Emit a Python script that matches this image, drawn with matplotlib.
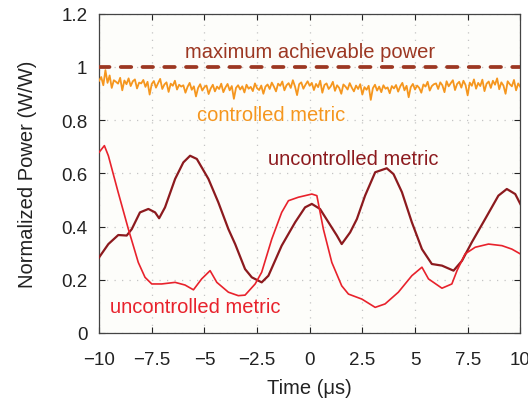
import numpy as np
import matplotlib
matplotlib.use("Agg")
import matplotlib.pyplot as plt

plt.rcParams['font.family'] = ['Liberation Sans', 'DejaVu Sans']

# Uncontrolled metric (bright red trace)
red_t = [-10.0, -9.75, -9.56, -9.1, -8.61, -8.14, -7.82, -7.5, -7.03, -6.39, -5.92,
         -5.52, -5.13, -4.73, -4.41, -3.86, -3.39, -3.07, -2.59, -2.28, -1.8, -1.33,
         -1.01, -0.54, 0.1, 0.34, 0.65, 1.05, 1.52, 1.84, 2.48, 3.11, 3.58, 4.21, 4.85,
         5.33, 5.64, 6.28, 6.75, 7.0, 7.38, 7.86, 8.49, 9.13, 9.6, 10.0]
red_p = [0.679, 0.704, 0.666, 0.53, 0.39, 0.265, 0.209, 0.184, 0.184, 0.19, 0.18,
         0.162, 0.203, 0.234, 0.19, 0.153, 0.14, 0.142, 0.184, 0.228, 0.353, 0.453,
         0.497, 0.51, 0.522, 0.516, 0.39, 0.265, 0.177, 0.146, 0.127, 0.096, 0.109, 0.153, 0.215,
         0.247, 0.203, 0.168, 0.184, 0.235, 0.297, 0.322, 0.334, 0.328, 0.315, 0.297]

# Uncontrolled metric (dark red trace)
dark_t = [-10.0, -9.56, -9.09, -8.69, -8.45, -8.06, -7.66, -7.34, -7.15, -6.87, -6.39,
          -6.0, -5.68, -5.36, -4.81, -4.34, -3.86, -3.54, -3.07, -2.75, -2.28, -1.96,
          -1.33, -0.69, -0.22, 0.1, 0.49, 0.89, 1.29, 1.52, 1.92, 2.24, 2.63, 3.11, 3.66,
          3.98, 4.38, 4.85, 5.33, 5.8, 6.28, 6.83, 7.23, 7.7, 8.33, 8.96, 9.36, 9.76, 10.0]
dark_p = [0.284, 0.334, 0.368, 0.366, 0.39, 0.453, 0.466, 0.453, 0.431, 0.472, 0.579,
          0.641, 0.666, 0.654, 0.579, 0.491, 0.39, 0.334, 0.24, 0.209, 0.19, 0.215,
          0.328, 0.416, 0.472, 0.485, 0.466, 0.416, 0.366, 0.334, 0.378, 0.428, 0.516, 0.604, 0.619,
          0.597, 0.529, 0.416, 0.315, 0.259, 0.253, 0.234, 0.271, 0.341, 0.428, 0.516, 0.541, 0.522, 0.485]

# Controlled metric samples (thousandths of W/W), uniformly spaced over -10..10 us
ctrl_milli = [
    948, 962, 931, 988, 940, 968, 921, 950, 944, 937, 959, 912, 949, 935, 957, 928, 946, 953, 919, 941,
    938, 951, 925, 944, 896, 936, 947, 922, 939, 955, 917, 934, 942, 906, 937, 929, 948, 915, 933, 926,
    931, 903, 925, 940, 914, 927, 889, 921, 935, 911, 924, 930, 898, 919, 933, 908, 926, 917, 937, 905,
    923, 936, 912, 928, 880, 921, 931, 915, 927, 904, 933, 918, 925, 909, 938, 920, 913, 930, 899, 926,
    934, 917, 941, 926, 908, 937, 929, 945, 912, 931, 939, 921, 950, 927, 894, 935, 942, 918, 933, 946,
    929, 940, 913, 936, 924, 948, 903, 932, 938, 917, 927, 944, 910, 931, 921, 899, 934, 926, 915, 939,
    922, 908, 930, 917, 935, 896, 924, 914, 929, 876, 920, 933, 911, 926, 905, 931, 918, 923, 901, 928,
    919, 932, 907, 927, 940, 912, 929, 886, 924, 936, 915, 930, 921, 903, 934, 926, 944, 911, 928, 935,
    938, 917, 942, 931, 905, 946, 927, 939, 950, 913, 936, 944, 922, 948, 932, 893, 941, 929, 953, 918,
    940, 928, 952, 909, 937, 945, 921, 948, 933, 957, 916, 942, 930, 899, 946, 935, 927, 951, 912, 938, 925,
]
max_power = 1.0

x_ticks = [-10, -7.5, -5, -2.5, 0, 2.5, 5, 7.5, 10]
x_labels = ['\u221210', '\u22127.5', '\u22125', '\u22122.5', '0', '2.5', '5', '7.5', '10']
y_ticks = [0, 0.2, 0.4, 0.6, 0.8, 1.0, 1.2]
y_labels = ['0', '0.2', '0.4', '0.6', '0.8', '1', '1.2']

C_ORANGE = '#f5961e'
C_RED = '#e8222c'
C_DARK = '#8c1a1e'
C_MAX = '#9c3722'

fig = plt.figure(figsize=(5.28, 4.02), dpi=100)
ax = fig.add_axes([0.1877, 0.1694, 0.7977, 0.794])
ax.set_facecolor('#fdfdfa')

ctrl = np.array(ctrl_milli) / 1000.0
ctrl_t = np.linspace(-10, 10, len(ctrl))

ax.plot(ctrl_t, ctrl, color=C_ORANGE, lw=1.3, zorder=3)
ax.plot(dark_t, dark_p, color=C_DARK, lw=1.6, zorder=4)
ax.plot(red_t, red_p, color=C_RED, lw=1.2, zorder=5)
ax.plot([-10, 10], [max_power, max_power], color=C_MAX, lw=2.7,
        dashes=(2.8, 3.0), dash_capstyle='round', zorder=6)

fs = 14.5
ax.text(0.0, 1.057, 'maximum achievable power', color=C_MAX, fontsize=fs,
        ha='center', va='center')
ax.text(-1.85, 0.82, 'controlled metric', color=C_ORANGE, fontsize=fs,
        ha='center', va='center')
ax.text(2.05, 0.657, 'uncontrolled metric', color=C_DARK, fontsize=fs,
        ha='center', va='center')
ax.text(-5.45, 0.10, 'uncontrolled metric', color=C_RED, fontsize=fs,
        ha='center', va='center')

ax.set_xlim(-10, 10)
ax.set_ylim(0, 1.2)
ax.set_xticks(x_ticks)
ax.set_xticklabels(x_labels)
ax.set_yticks(y_ticks)
ax.set_yticklabels(y_labels)
ax.tick_params(direction='in', length=4, width=0.8, top=True, right=True,
               labelsize=13.5, colors='#222222')
ax.tick_params(axis='x', pad=13)
ax.tick_params(axis='y', pad=8.5)
ax.grid(True, color='#c4c4c4', linestyle=(0, (1, 5)), lw=0.9)
for s in ax.spines.values():
    s.set_color('#444444')
    s.set_linewidth(0.9)

ax.set_xlabel('Time (\u03bcs)', fontsize=14.5, color='#222222')
ax.set_ylabel('Normalized Power (W/W)', fontsize=14.5, color='#222222')
ax.xaxis.set_label_coords(0.5, -0.17)
ax.yaxis.set_label_coords(-0.169, 0.5)
ax.xaxis.label.set_va('center')
ax.yaxis.label.set_va('center')

fig.savefig('out.png', dpi=100, facecolor='white')
